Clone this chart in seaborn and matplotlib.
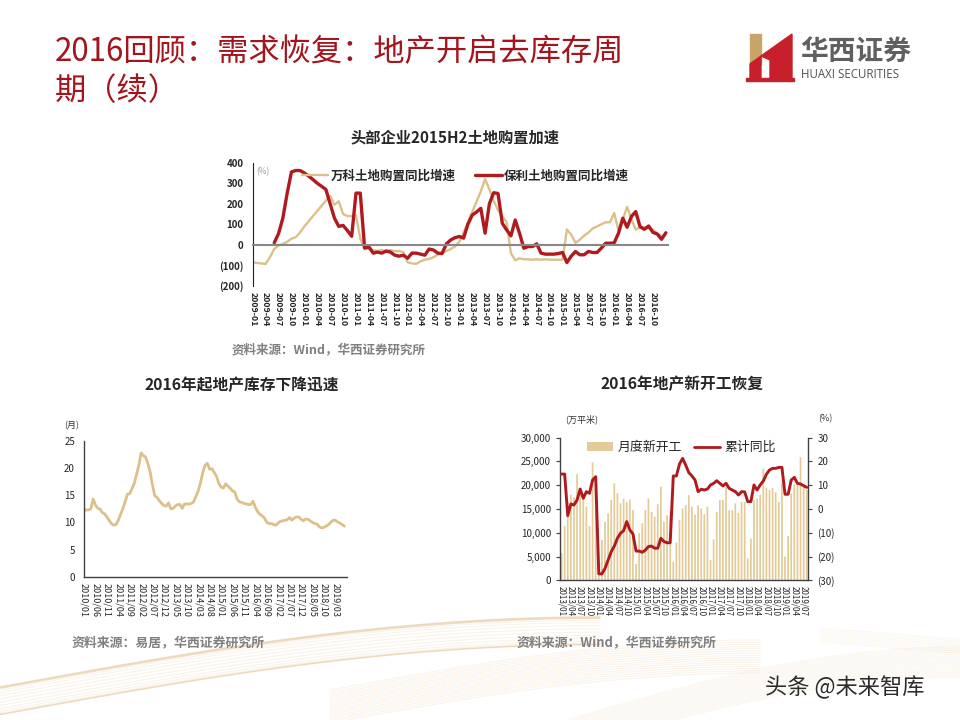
import numpy as np
import pandas as pd
import seaborn as sns
import matplotlib.pyplot as plt
from matplotlib.ticker import FuncFormatter, MultipleLocator
from matplotlib.lines import Line2D
from matplotlib.patches import Patch, Polygon, Rectangle

RED = "#B01A1F"
TAN = "#DCC08A"
BAR = "#E3CA96"
TITLE_RED = "#A3141C"
GREY_TXT = "#808080"

# ---- chart 1: land purchase YoY (%) , monthly from 2009-01
land_months = pd.date_range("2009-01", periods=97, freq="MS")
land_ticks = [d.strftime("%Y-%m") for d in land_months[:94:3]]
vanke_land = [
    -85, -88, -90, -93, -60, -20, -3, 5, 15, 30, 38, 60,
    90, 115, 140, 165, 190, 215, 238, 195, 212, 150, 140, 140,
    145, 30, -20, -20, -25, -30, -25, -30, -25, -30, -30, -35,
    -85, -90, -92, -80, -72, -68, -60, -48, -40, -30, -20, -8,
    15, 60, 110, 160, 210, 260, 320, 270, 215, 170, 140, 110,
    -40, -75, -65, -70, -70, -72, -70, -72, -70, -72, -72, -72,
    -72, 75, 50, 10, 25, 45, 60, 80, 90, 100, 110, 110,
    155, 70, 125, 185, 125, 75, 85, 85, 80, 75, 55, 45,
]
poly_start = 5  # Poly series begins 2009-06
poly_land = [
    10, 55, 130, 250, 355, 362, 362, 350, 335, 318, 300, 285, 270,
    200, 130, 90, 95, 70, 42, 252, 252, -15, -10, -40, -35, -40,
    -30, -35, -50, -55, -50, -65, -40, -40, -45, -50, -20, -25, -40,
    -42, 5, 24, 35, 41, 33, 100, 145, 160, 178, 57, 200, 254,
    250, 105, 73, 44, 121, 57, -16, -8, -8, 5, -40, -45, -45, -45,
    -42, -37, -86, -55, -32, -48, -48, -32, -37, -37, -16, 8, 8,
    10, 57, 130, 86, 138, 162, 89, 76, 92, 61, 53, 27, 59,
]

# ---- chart 2: inventory clearing cycle (months), monthly from 2010-01
inv_months = pd.date_range("2010-01", periods=115, freq="MS")
inv_ticks = [d.strftime("%Y/%m") for d in inv_months[:111:5]]
inventory_months = [
    12.2, 12.3, 12.3, 12.5, 14.3, 13.2, 12.6, 12.5, 11.8, 11.6, 11.0, 10.4,
    9.8, 9.5, 9.6, 10.4, 11.5, 12.5, 13.8, 15.2, 15.3, 16.2, 17.2, 18.8,
    20.5, 22.8, 22.3, 22.0, 20.8, 19.2, 16.8, 14.9, 14.6, 14.0, 13.5, 13.1,
    13.0, 13.6, 12.5, 12.6, 13.0, 13.3, 13.3, 12.6, 13.4, 13.4, 13.4, 13.5,
    13.8, 14.8, 15.8, 17.3, 19.2, 20.5, 20.9, 19.8, 19.9, 19.2, 18.5, 17.2,
    16.5, 16.3, 17.1, 16.7, 16.3, 15.8, 15.6, 14.3, 13.8, 13.7, 13.5, 13.4,
    13.3, 13.3, 13.9, 12.8, 12.0, 11.5, 11.2, 10.8, 10.0, 9.8, 9.8, 9.6,
    9.5, 9.9, 10.2, 10.3, 10.4, 10.5, 10.9, 10.4, 10.8, 11.0, 11.0, 10.6,
    10.3, 10.6, 10.6, 10.3, 10.0, 9.8, 9.7, 9.2, 9.0, 9.1, 9.3, 9.6,
    10.0, 10.4, 10.4, 10.1, 9.9, 9.6, 9.3,
]

# ---- chart 3: monthly new starts (10k m2) and cumulative YoY (%), from 2013-01
start_months = pd.date_range("2013-01", periods=80, freq="MS")
start_labels = [d.strftime("%Y/%m") for d in start_months]
start_ticks = start_labels[::3]
new_starts = [
    5700, 11400, 16500, 18000, 17500, 22300, 18600, 17600, 15500, 11400, 24800, 19000,
    4000, 8500, 12300, 14100, 16900, 20400, 18300, 16200, 17200, 16500, 17000, 14800,
    3400, 9900, 12000, 14800, 17200, 14400, 13400, 16000, 19700, 12300, 13700, 14500,
    3900, 7900, 12700, 15100, 15800, 17900, 15500, 13800, 15800, 15100, 13900, 15500,
    4300, 8600, 14400, 16900, 16900, 19700, 14700, 14700, 16200, 14200, 16500, 16500,
    4600, 8800, 16900, 17200, 18000, 23500, 19400, 19000, 19400, 18500, 16500, 20400,
    5000, 9300, 18300, 20200, 20400, 25900, 20000, 19000,
]
starts_yoy = [
    14.7, 14.7, -2.8, 2.1, 1.7, 3.8, 8.4, 4.5, 7.3, 6.6, 12.2, 13.6,
    -27.3, -27.3, -25.0, -21.5, -18.0, -15.6, -12.3, -10.2, -9.1, -5.3, -8.8, -10.5,
    -17.7, -17.7, -18.2, -17.3, -15.8, -15.6, -16.5, -16.5, -12.3, -13.7, -14.2, -14.2,
    13.9, 13.9, 18.9, 21.3, 18.5, 15.3, 13.9, 12.2, 7.3, 8.3, 8.0, 8.4,
    10.1, 10.8, 11.9, 10.8, 9.7, 10.8, 8.7, 8.0, 7.3, 5.9, 7.3, 7.2,
    3.1, 3.1, 10.1, 8.0, 10.1, 11.8, 14.6, 16.4, 17.1, 17.1, 17.5, 17.5,
    6.2, 6.2, 12.2, 13.3, 10.8, 10.5, 9.8, 9.1,
]


def fx(px):
    return px / 960


def fy(py):
    return 1 - py / 720


def paren(v, _):
    return f"({abs(int(v))})" if v < 0 else f"{int(v)}"


sns.set_style("white")
plt.rcParams["font.family"] = ["Noto Sans CJK SC", "DejaVu Sans"]
plt.rcParams["axes.unicode_minus"] = False

fig = plt.figure(figsize=(9.6, 7.2), dpi=100)

# background swooshes
bg = fig.add_axes([0, 0, 1, 1], zorder=-10)
bg.set_xlim(0, 960)
bg.set_ylim(720, 0)
bg.axis("off")
xs = np.linspace(0, 600, 200)
for k in range(22):
    bg.plot(xs, 714 - 70 * np.sin(np.pi / 2 * xs / 600) - k * 1.4 + 6 * np.sin(k / 3),
            color="#D49E4E", alpha=0.12, lw=0.8)
xs = np.linspace(330, 760, 200)
for k in range(16):
    bg.plot(xs, 690 - 50 * np.sin(np.pi * (xs - 330) / 860) + k * 2.2,
            color="#DDAE68", alpha=0.14, lw=0.8)
xs = np.linspace(560, 960, 200)
for k in range(18):
    bg.plot(xs, 722 - 75 * np.sin(np.pi / 2 * (xs - 560) / 400) + k * 1.8,
            color="#E3C590", alpha=0.14, lw=0.8)
xs = np.linspace(820, 960, 80)
for k in range(8):
    bg.plot(xs, 628 + 0.08 * (xs - 820) + k * 2, color="#E3C590", alpha=0.12, lw=0.8)

# slide title
fig.text(fx(55), fy(52), "2016回顾：需求恢复：地产开启去库存周", fontsize=22.5,
         color=TITLE_RED, va="center", ha="left")
fig.text(fx(55), fy(91), "期（续）", fontsize=22.5, color=TITLE_RED, va="center", ha="left")

# logo
bg.add_patch(Rectangle((750, 34), 11, 30, color="#C9A468"))
bg.add_patch(Polygon([(750, 64), (761, 56), (761, 80), (750, 80)], color="#C8202A"))
bg.add_patch(Polygon([(761, 56), (792, 34), (792, 81), (770, 81), (770, 60)], color="#C8202A"))
bg.add_patch(Rectangle((746, 78), 48, 3, color="#C8202A"))
fig.text(fx(800), fy(52), "华西证券", fontsize=20, color="#606060", va="center",
         fontweight="bold")
fig.text(fx(801), fy(75), "HUAXI SECURITIES", fontsize=8.3, color="#505050", va="center",
         family=["Open Sans", "DejaVu Sans"])

# ---------------- chart 1
ax1 = fig.add_axes([fx(252.7), fy(286), fx(668) - fx(252.7), fy(162.7) - fy(286)])
sns.lineplot(x=np.arange(len(vanke_land)), y=vanke_land, ax=ax1, color=TAN, lw=1.7,
             label="万科土地购置同比增速")
sns.lineplot(x=np.arange(poly_start, poly_start + len(poly_land)), y=poly_land, ax=ax1,
             color=RED, lw=2.4, label="保利土地购置同比增速")
ax1.set_xlim(0, 96.5)
ax1.set_ylim(-200, 400)
ax1.yaxis.set_major_locator(MultipleLocator(100))
ax1.yaxis.set_major_formatter(FuncFormatter(paren))
for s in ["top", "right"]:
    ax1.spines[s].set_visible(False)
ax1.spines["bottom"].set_position(("data", 0))
ax1.spines["bottom"].set_color("#888888")
ax1.spines["bottom"].set_linewidth(1.5)
ax1.spines["left"].set_color("#222222")
ax1.spines["left"].set_linewidth(0.8)
ax1.set_xticks(range(0, 94, 3))
ax1.set_xticklabels(land_ticks, rotation=-90, fontsize=6.3, fontweight="bold")
ax1.tick_params(axis="x", length=3, color="#888888", pad=31)
ax1.tick_params(axis="y", length=3, labelsize=7, color="#222222")
for t in ax1.get_yticklabels():
    t.set_fontweight("bold")
ax1.set_xlabel("")
ax1.set_ylabel("")
ax1.legend(loc="center left", bbox_to_anchor=(0.118, 0.89), ncol=2, frameon=False,
           borderaxespad=0, borderpad=0, handlelength=2.1, handletextpad=0.2,
           columnspacing=1.6, prop={"size": 9, "weight": "bold"})
fig.text(fx(256), fy(172), "(%)", fontsize=6, color="#9A9A9A", va="center")
fig.text(fx(455), fy(137), "头部企业2015H2土地购置加速", fontsize=11, fontweight="bold",
         ha="center", va="center")
fig.text(fx(232), fy(350), "资料来源：Wind，华西证券研究所", fontsize=9, fontweight="bold",
         color=GREY_TXT, va="center")

# ---------------- chart 2
ax2 = fig.add_axes([fx(84), fy(576.7), fx(346.7) - fx(84), fy(441) - fy(576.7)])
sns.lineplot(x=np.arange(len(inventory_months)), y=inventory_months, ax=ax2, color=TAN, lw=2)
ax2.set_xlim(0, 115)
ax2.set_ylim(0, 25)
ax2.yaxis.set_major_locator(MultipleLocator(5))
for s in ["top", "right"]:
    ax2.spines[s].set_visible(False)
for s in ["left", "bottom"]:
    ax2.spines[s].set_color("#404040")
    ax2.spines[s].set_linewidth(1)
ax2.set_xticks(range(0, 111, 5))
ax2.set_xticklabels(inv_ticks, rotation=-90, fontsize=6.5)
ax2.tick_params(axis="both", length=3, color="#404040", labelsize=7)
ax2.tick_params(axis="x", labelsize=6.5, pad=1.5)
ax2.set_xlabel("")
ax2.set_ylabel("")
fig.text(fx(64), fy(426), "(月)", fontsize=6.5, color="#333333", va="center")
fig.text(fx(242), fy(385), "2016年起地产库存下降迅速", fontsize=11.3, fontweight="bold",
         ha="center", va="center")
fig.text(fx(72), fy(643), "资料来源：易居，华西证券研究所", fontsize=9.3, fontweight="bold",
         color=GREY_TXT, va="center")

# ---------------- chart 3
ax3 = fig.add_axes([fx(560), fy(580.3), fx(808.3) - fx(560), fy(437.7) - fy(580.3)])
df3 = pd.DataFrame({"month": start_labels, "starts": new_starts})
sns.barplot(data=df3, x="month", y="starts", color=BAR, width=0.55, saturation=1, ax=ax3,
            linewidth=0, snap=False)
ax3b = ax3.twinx()
sns.lineplot(x=np.arange(len(starts_yoy)), y=starts_yoy, ax=ax3b, color=RED, lw=2.1)
ax3.set_xlim(-0.5, 79.5)
ax3.set_ylim(0, 30000)
ax3.yaxis.set_major_locator(MultipleLocator(5000))
ax3.yaxis.set_major_formatter(FuncFormatter(lambda v, _: f"{int(v):,}"))
ax3b.set_ylim(-30, 30)
ax3b.yaxis.set_major_locator(MultipleLocator(10))
ax3b.yaxis.set_major_formatter(FuncFormatter(paren))
for a in (ax3, ax3b):
    for s in ["top", "left", "right", "bottom"]:
        a.spines[s].set_visible(False)
for a, s in ((ax3, "left"), (ax3, "bottom"), (ax3b, "right")):
    a.spines[s].set_visible(True)
    a.spines[s].set_color("#404040")
    a.spines[s].set_linewidth(1)
ax3.set_xticks(range(0, 80, 3))
ax3.set_xticklabels(start_ticks, rotation=-90, fontsize=5.8)
ax3.tick_params(axis="x", length=2.5, color="#404040", pad=1.5)
ax3.tick_params(axis="y", length=3, color="#404040", labelsize=7)
ax3b.tick_params(axis="y", length=3, color="#404040", labelsize=7)
for a in (ax3, ax3b):
    a.set_xlabel("")
    a.set_ylabel("")
handles = [Patch(facecolor=BAR, edgecolor="none"), Line2D([], [], color=RED, lw=2)]
ax3b.legend(handles, ["月度新开工", "累计同比"], loc="center left",
            bbox_to_anchor=(0.1075, 0.93), ncol=2, frameon=False, borderaxespad=0,
            borderpad=0, handlelength=2.0, handletextpad=0.4, columnspacing=0.9,
            prop={"size": 9.3})
fig.text(fx(565), fy(419), "(万平米)", fontsize=6.5, color="#333333", va="center")
fig.text(fx(818), fy(419), "(%)", fontsize=6.5, color="#333333", va="center")
fig.text(fx(682), fy(384), "2016年地产新开工恢复", fontsize=11.3, fontweight="bold",
         ha="center", va="center")
fig.text(fx(517), fy(643), "资料来源：Wind，华西证券研究所", fontsize=9.3, fontweight="bold",
         color=GREY_TXT, va="center")

# watermark
fig.text(fx(765), fy(687), "头条 @未来智库", fontsize=16, color="#2B2B2B", va="center")

fig.savefig("out.png", dpi=100)
